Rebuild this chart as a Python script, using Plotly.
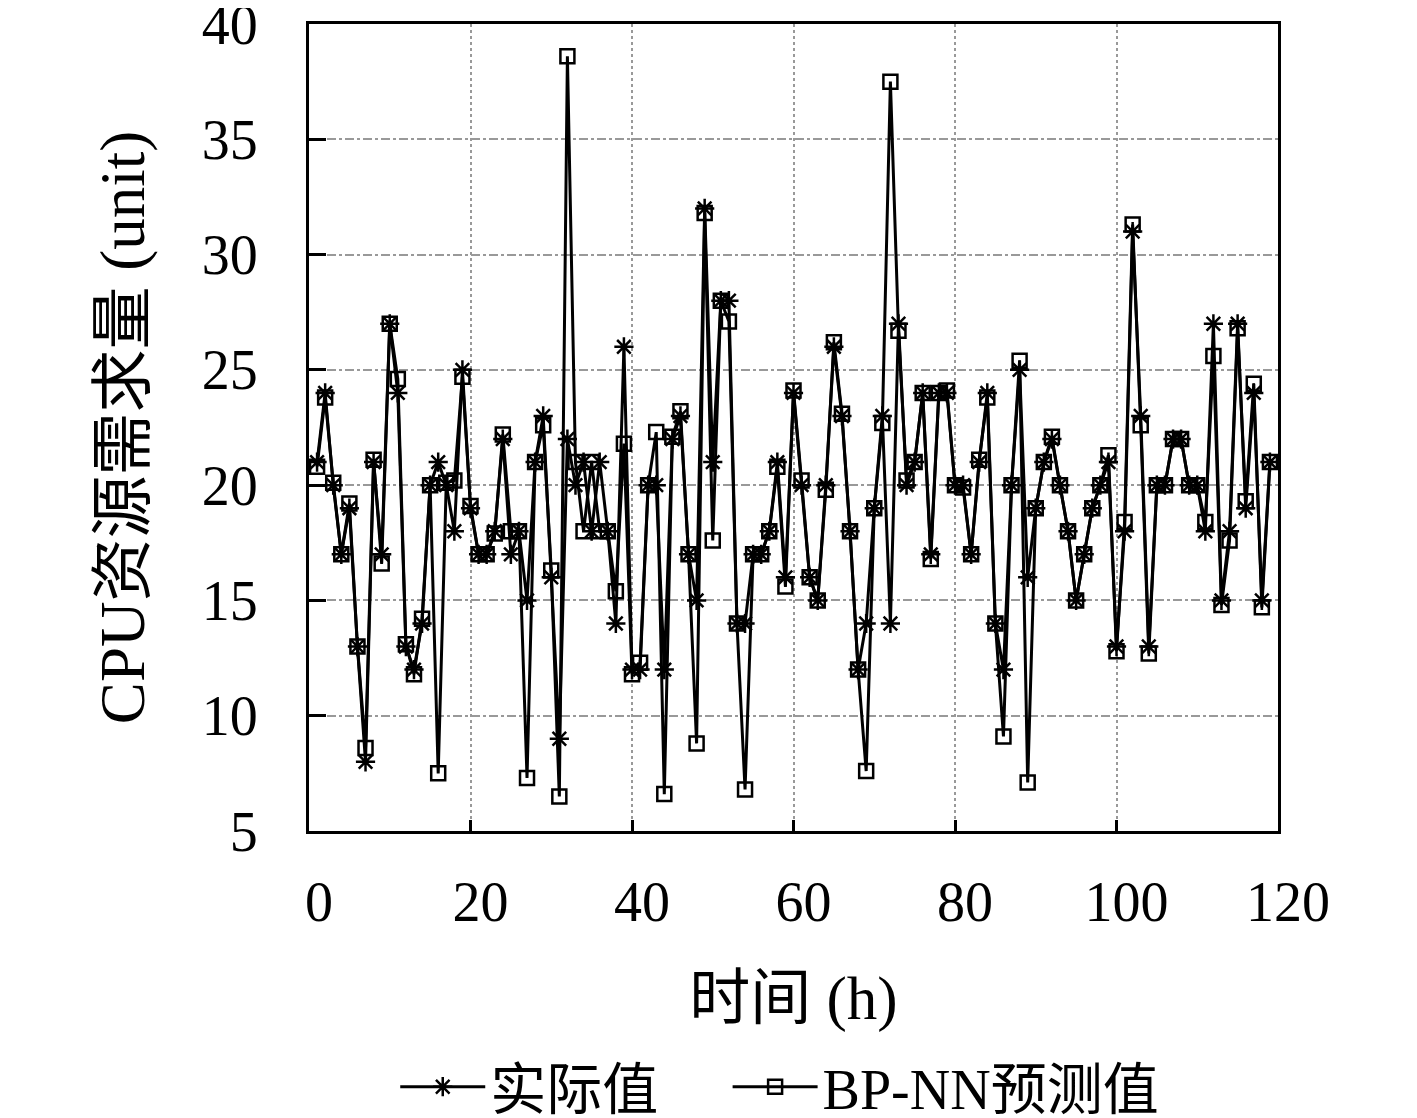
import plotly.graph_objects as go

# hours 1..119
hours = list(range(1, 120))

actual = [
    21, 24, 20, 17, 19, 13, 8, 21, 17, 27,
    24, 13, 12, 14, 20, 21, 20, 18, 25, 19,
    17, 17, 18, 22, 17, 18, 15, 21, 23, 16,
    9, 22, 20, 21, 18, 21, 18, 14, 26, 12,
    12, 20, 20, 12, 22, 23, 17, 15, 32, 21,
    28, 28, 14, 14, 17, 17, 18, 21, 16, 24,
    20, 16, 15, 20, 26, 23, 18, 12, 14, 19,
    23, 14, 27, 20, 21, 24, 17, 24, 24, 20,
    20, 17, 21, 24, 14, 12, 20, 25, 16, 19,
    21, 22, 20, 18, 15, 17, 19, 20, 21, 13,
    18, 31, 23, 13, 20, 20, 22, 22, 20, 20,
    18, 27, 15, 18, 27, 19, 24, 15, 21,
]

predicted = [
    20.8, 23.8, 20.1, 17, 19.2, 13, 8.6, 21.1, 16.6, 27,
    24.6, 13.1, 11.8, 14.2, 20, 7.5, 20.1, 20.2, 24.7, 19.1,
    17, 17, 17.9, 22.2, 18, 18, 7.3, 21, 22.6, 16.3,
    6.5, 38.6, 21, 18, 21, 18, 18, 15.4, 21.8, 11.8,
    12.3, 20, 22.3, 6.6, 22.1, 23.2, 17, 8.8, 31.8, 17.6,
    28, 27.1, 14, 6.8, 17, 17, 18, 20.8, 15.6, 24.1,
    20.2, 16, 15, 19.8, 26.2, 23.1, 18, 12, 7.6, 19,
    22.7, 37.5, 26.7, 20.2, 21, 24, 16.8, 24, 24.1, 20,
    19.9, 17, 21.1, 23.8, 14, 9.1, 20, 25.4, 7.1, 19,
    21, 22.1, 20, 18, 15, 17, 19, 20, 21.3, 12.8,
    18.4, 31.3, 22.6, 12.7, 20, 20, 22, 22, 20, 20,
    18.4, 25.6, 14.8, 17.6, 26.8, 19.3, 24.4, 14.7, 21,
]

x_ticks = [0, 20, 40, 60, 80, 100, 120]
y_ticks = [5, 10, 15, 20, 25, 30, 35, 40]

serif = "Liberation Serif, DejaVu Serif, Noto Sans CJK SC"

fig = go.Figure()

fig.add_trace(go.Scatter(
    x=hours, y=actual, name="实际值", legend="legend",
    mode="lines+markers",
    line=dict(color="black", width=3),
    marker=dict(symbol="asterisk-open", size=16, color="black",
                line=dict(color="black", width=2.5)),
))
fig.add_trace(go.Scatter(
    x=hours, y=predicted, name="BP-NN预测值", legend="legend2",
    mode="lines+markers",
    line=dict(color="black", width=3),
    marker=dict(symbol="square-open", size=14, color="black",
                line=dict(color="black", width=2.5)),
))

legend_style = dict(
    orientation="h", y=-0.317, yanchor="middle", xanchor="left",
    font=dict(family=serif, size=56), bgcolor="rgba(0,0,0,0)",
    itemwidth=85,
)

# page body has an 8px margin, so the figure is offset by that much
fig.update_layout(
    width=1409, height=1140,
    margin=dict(l=301, r=139, t=16, b=317),
    plot_bgcolor="white", paper_bgcolor="white",
    font=dict(family=serif, size=56, color="black"),
    showlegend=True,
    legend=dict(x=0.089, **legend_style),
    legend2=dict(x=0.432, **legend_style),
)

fig.update_xaxes(
    range=[0, 120], tickvals=x_ticks, ticktext=[str(v) for v in x_ticks],
    ticks="inside", ticklen=11, tickwidth=3, tickcolor="black",
    ticklabelstandoff=20, ticklabelshift=10, ticklabeloverflow="allow",
    showline=True, linecolor="black", linewidth=3, mirror=True,
    showgrid=True, gridcolor="#999999", gridwidth=1.5, griddash="dot",
    zeroline=False, automargin=False,
    title=dict(text="时间 (h)", standoff=45, font=dict(family=serif, size=61)),
)
fig.update_yaxes(
    range=[5, 40], tickvals=y_ticks,
    ticks="inside", ticklen=17, tickwidth=3, tickcolor="black",
    ticklabelstandoff=37, ticklabeloverflow="allow",
    showline=True, linecolor="black", linewidth=3, mirror=True,
    showgrid=True, gridcolor="#999999", gridwidth=1.5, griddash="dashdot",
    zeroline=False, automargin=False,
    title=dict(text="CPU资源需求量 (unit)", standoff=37, font=dict(family=serif, size=63)),
)

fig.write_html("out.html")
